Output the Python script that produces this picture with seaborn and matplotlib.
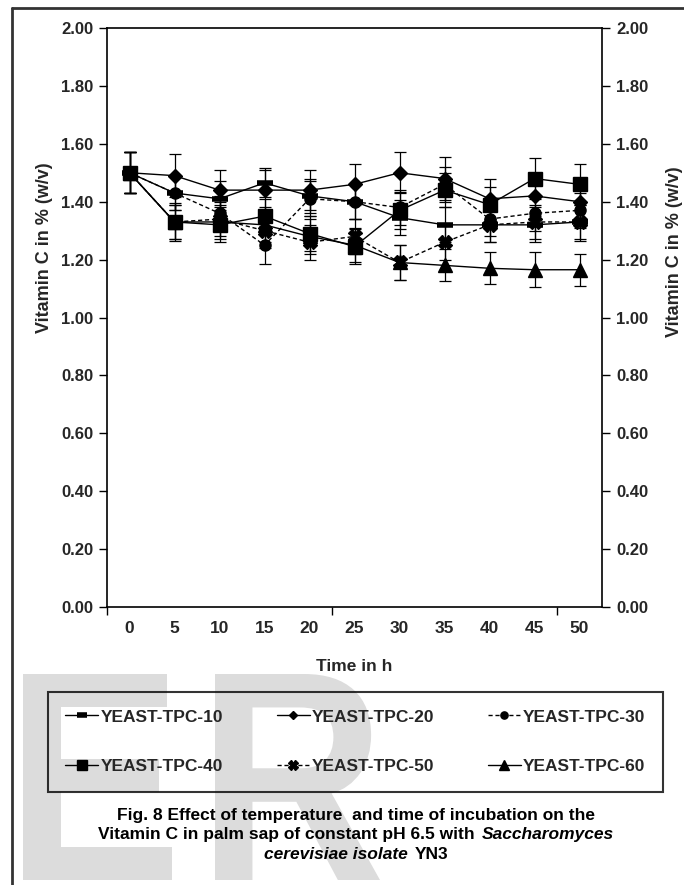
import numpy as np
import pandas as pd
import seaborn as sns
import matplotlib.pyplot as plt
from matplotlib.textpath import TextPath
from matplotlib.patches import PathPatch
from matplotlib.font_manager import FontProperties
from matplotlib.transforms import Affine2D, IdentityTransform
from matplotlib.offsetbox import TextArea, HPacker, VPacker, AnchoredOffsetbox
from matplotlib.lines import Line2D
from matplotlib.ticker import FormatStrFormatter

# time points (h)
times = ['0', '5', '10', '15', '20', '25', '30', '35', '40', '45', '50']

# vitamin C % (w/v)
tpc_10 = [1.50, 1.43, 1.41, 1.465, 1.42, 1.40, 1.345, 1.32, 1.32, 1.32, 1.33]
tpc_20 = [1.50, 1.49, 1.44, 1.44, 1.44, 1.46, 1.50, 1.48, 1.41, 1.42, 1.40]
tpc_30 = [1.50, 1.43, 1.36, 1.25, 1.41, 1.40, 1.38, 1.46, 1.34, 1.36, 1.37]
tpc_40 = [1.50, 1.33, 1.32, 1.35, 1.29, 1.245, 1.37, 1.44, 1.39, 1.48, 1.46]
tpc_50 = [1.50, 1.33, 1.34, 1.30, 1.26, 1.28, 1.19, 1.26, 1.32, 1.33, 1.33]
tpc_60 = [1.50, 1.33, 1.33, 1.32, 1.28, 1.25, 1.19, 1.18, 1.17, 1.165, 1.165]

# error bars
err_10 = [0.07, 0.06, 0.06, 0.05, 0.06, 0.06, 0.06, 0.06, 0.06, 0.06, 0.06]
err_20 = [0.07, 0.075, 0.07, 0.07, 0.07, 0.07, 0.07, 0.075, 0.07, 0.07, 0.07]
err_30 = [0.07, 0.06, 0.06, 0.065, 0.06, 0.06, 0.06, 0.06, 0.06, 0.06, 0.06]
err_40 = [0.07, 0.06, 0.06, 0.06, 0.06, 0.06, 0.065, 0.06, 0.06, 0.07, 0.07]
err_50 = [0.07, 0.06, 0.06, 0.06, 0.06, 0.06, 0.06, 0.06, 0.06, 0.06, 0.065]
err_60 = [0.07, 0.065, 0.06, 0.06, 0.06, 0.06, 0.06, 0.055, 0.055, 0.06, 0.055]

names = ['YEAST-TPC-10', 'YEAST-TPC-20', 'YEAST-TPC-30',
         'YEAST-TPC-40', 'YEAST-TPC-50', 'YEAST-TPC-60']

sns.set_style('white')
plt.rcParams['font.family'] = ['Liberation Sans', 'DejaVu Sans']
plt.rcParams['font.weight'] = 'bold'

W, H = 684, 885
fig = plt.figure(figsize=(W / 100, H / 100), dpi=100)
ax = fig.add_axes([107 / W, 1 - 607 / H, (602 - 107) / W, (607 - 28) / H])

pos = np.arange(len(times))
dash = (0, (3, 2))
series = [
    (names[0], tpc_10, err_10, '_', 12, 4, '-'),
    (names[1], tpc_20, err_20, 'D', 7, 1, '-'),
    (names[2], tpc_30, err_30, 'o', 8, 1, dash),
    (names[3], tpc_40, err_40, 's', 10, 1, '-'),
    (names[4], tpc_50, err_50, 'X', 10, 1, dash),
    (names[5], tpc_60, err_60, '^', 10, 1, '-'),
]

for name, vals, err, mk, ms, mew, ls in series:
    sns.lineplot(x=pos, y=vals, ax=ax, color='black', linewidth=1,
                 linestyle=ls, marker=mk, markersize=ms,
                 markeredgewidth=mew, markeredgecolor='black',
                 markerfacecolor='black', label=name, errorbar=None)
    ax.errorbar(pos, vals, yerr=err, fmt='none', ecolor='black',
                elinewidth=0.9, capsize=4, capthick=0.9)

if ax.get_legend() is not None:
    ax.get_legend().remove()

ax.set_xlim(-0.5, 10.5)
ax.set_ylim(0, 2)
ax.set_xticks(pos)
ax.set_xticklabels(times)
ax.set_xticks([-0.5, 4.5, 9.5], minor=True)
ax.set_yticks(np.arange(0, 2.01, 0.2))
ax.yaxis.set_major_formatter(FormatStrFormatter('%.2f'))
ax.tick_params(axis='x', which='major', length=0, pad=10, labelsize=12.5)
ax.tick_params(axis='x', which='minor', bottom=True, length=6, width=1,
               direction='out', color='black')
ax.tick_params(axis='y', left=True, right=True, labelleft=True,
               labelright=True, length=6, width=1, direction='out',
               pad=4, labelsize=12, color='black')
for sp in ax.spines.values():
    sp.set_color('black')
    sp.set_linewidth(1.2)

ax.set_xlabel('Time in h', fontsize=12.5, fontweight='bold')
ax.xaxis.set_label_coords(0.5, (607 - 659) / (607 - 28))
ax.set_ylabel('')
fig.text(45 / W, 1 - 248 / H, 'Vitamin C in % (w/v)', rotation=90,
         ha='center', va='center', fontsize=13, fontweight='bold')
fig.text(683 / W, 1 - 252 / H, 'Vitamin C in % (w/v)', rotation=90,
         ha='right', va='center', fontsize=13, fontweight='bold')

# legend, filled row by row like the original
handles, labels = ax.get_legend_handles_labels()
lookup = dict(zip(labels, handles))
order = [names[0], names[3], names[1], names[4], names[2], names[5]]
leg = fig.legend([lookup[n] for n in order], order, ncol=3, loc='upper left',
                 bbox_to_anchor=(48 / W, 1 - 796 / H, 615 / W, 104 / H),
                 mode='expand', fancybox=False, edgecolor='black',
                 facecolor='none', framealpha=None, fontsize=12.5,
                 labelspacing=2.0, handlelength=1.9, handletextpad=0.15,
                 borderpad=1.0, borderaxespad=0, markerscale=0.65)
leg.get_frame().set_linewidth(1.5)

# caption
cap_kw = dict(fontsize=12.5, fontweight='bold', color='black')
it_kw = dict(fontsize=12.5, fontweight='bold', fontstyle='italic', color='black')
line1 = TextArea('Fig. 8 Effect of temperature  and time of incubation on the', textprops=cap_kw)
line2 = HPacker(children=[TextArea('Vitamin C in palm sap of constant pH 6.5 with', textprops=cap_kw),
                          TextArea('Saccharomyces', textprops=it_kw)], sep=5, pad=0, align='baseline')
line3 = HPacker(children=[TextArea('cerevisiae isolate', textprops=it_kw),
                          TextArea('YN3', textprops=cap_kw)], sep=5, pad=0, align='baseline')
caption = VPacker(children=[line1, line2, line3], sep=3, pad=0, align='center')
fig.add_artist(AnchoredOffsetbox(loc='center', child=caption, frameon=False, pad=0,
                                 borderpad=0, bbox_to_anchor=(356 / W, 1 - 835 / H),
                                 bbox_transform=fig.transFigure))

# watermark letters (left edge, width in pixels)
fp = FontProperties(family='Liberation Sans')
for letter, left, width in [('E', 23, 149), ('R', 215, 165)]:
    tp = TextPath((0, 0), letter, size=100, prop=fp)
    ext = tp.get_extents()
    sy = 206 / ext.height
    sx = width / ext.width
    tr = Affine2D().translate(-ext.x0, -ext.y0).scale(sx, sy).translate(left, H - 880)
    fig.add_artist(PathPatch(tr.transform_path(tp), facecolor='#dcdcdc',
                             edgecolor='none', transform=IdentityTransform(),
                             zorder=-1))

# page frame
fig.add_artist(Line2D([12 / W, 12 / W], [0, 1 - 8 / H], transform=fig.transFigure,
                      color='#333333', linewidth=2))
fig.add_artist(Line2D([12 / W, 1], [1 - 8 / H, 1 - 8 / H], transform=fig.transFigure,
                      color='#333333', linewidth=2))

fig.savefig('out.png', dpi=100)
